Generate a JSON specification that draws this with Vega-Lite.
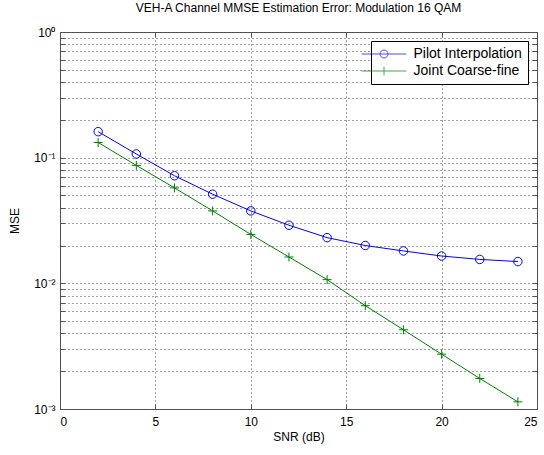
{
  "$schema": "https://vega.github.io/schema/vega-lite/v6.json",
  "width": 477,
  "height": 377,
  "autosize": {"type": "none"},
  "padding": {"left": 60, "top": 32, "right": 7, "bottom": 46},
  "background": "white",
  "title": {
    "text": "VEH-A Channel MMSE Estimation Error: Modulation 16 QAM",
    "font": "Liberation Sans",
    "fontSize": 12,
    "fontWeight": "normal",
    "color": "#000000",
    "anchor": "middle",
    "offset": 11
  },
  "config": {
    "font": "Liberation Sans",
    "view": {"stroke": "#555555", "strokeWidth": 1},
    "axis": {
      "domain": false,
      "tickColor": "#555555",
      "tickWidth": 1,
      "labelFont": "Liberation Sans",
      "labelFontSize": 12,
      "labelColor": "#000000",
      "titleFont": "Liberation Sans",
      "titleFontSize": 12,
      "titleFontWeight": "normal",
      "titleColor": "#000000"
    },
    "legend": {
      "orient": "none",
      "legendX": 311,
      "legendY": 9,
      "strokeColor": "#000000",
      "fillColor": "#ffffff",
      "cornerRadius": 0,
      "padding": 6,
      "labelFont": "Liberation Sans",
      "labelFontSize": 14,
      "labelColor": "#000000",
      "symbolSize": 64,
      "symbolStrokeWidth": 1,
      "labelOffset": 22.5,
      "rowPadding": 3
    }
  },
  "data": {
    "values": [
      {"snr": 2, "mse": 0.161, "series": "Pilot Interpolation"},
      {"snr": 4, "mse": 0.107, "series": "Pilot Interpolation"},
      {"snr": 6, "mse": 0.0718, "series": "Pilot Interpolation"},
      {"snr": 8, "mse": 0.0512, "series": "Pilot Interpolation"},
      {"snr": 10, "mse": 0.0377, "series": "Pilot Interpolation"},
      {"snr": 12, "mse": 0.029, "series": "Pilot Interpolation"},
      {"snr": 14, "mse": 0.0231, "series": "Pilot Interpolation"},
      {"snr": 16, "mse": 0.02, "series": "Pilot Interpolation"},
      {"snr": 18, "mse": 0.0181, "series": "Pilot Interpolation"},
      {"snr": 20, "mse": 0.0165, "series": "Pilot Interpolation"},
      {"snr": 22, "mse": 0.0155, "series": "Pilot Interpolation"},
      {"snr": 24, "mse": 0.0149, "series": "Pilot Interpolation"},
      {"snr": 2, "mse": 0.132, "series": "Joint Coarse-fine"},
      {"snr": 4, "mse": 0.0868, "series": "Joint Coarse-fine"},
      {"snr": 6, "mse": 0.0575, "series": "Joint Coarse-fine"},
      {"snr": 8, "mse": 0.0377, "series": "Joint Coarse-fine"},
      {"snr": 10, "mse": 0.0245, "series": "Joint Coarse-fine"},
      {"snr": 12, "mse": 0.0162, "series": "Joint Coarse-fine"},
      {"snr": 14, "mse": 0.0107, "series": "Joint Coarse-fine"},
      {"snr": 16, "mse": 0.00664, "series": "Joint Coarse-fine"},
      {"snr": 18, "mse": 0.00427, "series": "Joint Coarse-fine"},
      {"snr": 20, "mse": 0.00273, "series": "Joint Coarse-fine"},
      {"snr": 22, "mse": 0.00175, "series": "Joint Coarse-fine"},
      {"snr": 24, "mse": 0.00114, "series": "Joint Coarse-fine"}
    ]
  },
  "layer": [
    {
      "mark": {"type": "line", "strokeWidth": 1},
      "encoding": {
        "x": {
          "field": "snr",
          "type": "quantitative",
          "scale": {"domain": [0, 25], "nice": false, "zero": false},
          "axis": {
            "orient": "bottom",
            "values": [0, 5, 10, 15, 20, 25],
            "grid": true,
            "gridDash": [1, 3],
            "gridColor": "#444444",
            "gridOpacity": 1,
            "tickSize": -5,
            "labelPadding": 12,
            "title": "SNR (dB)",
            "titlePadding": 4
          }
        },
        "y": {
          "field": "mse",
          "type": "quantitative",
          "scale": {"type": "log", "domain": [0.001, 1], "nice": false},
          "axis": {
            "orient": "left",
            "values": [0.001, 0.002, 0.003, 0.004, 0.005, 0.006, 0.007, 0.008, 0.009,
                       0.01, 0.02, 0.03, 0.04, 0.05, 0.06, 0.07, 0.08, 0.09,
                       0.1, 0.2, 0.3, 0.4, 0.5, 0.6, 0.7, 0.8, 0.9, 1],
            "labelExpr": "datum.value == 1 ? '10⁰' : datum.value == 0.1 ? '10⁻¹' : datum.value == 0.01 ? '10⁻²' : datum.value == 0.001 ? '10⁻³' : ''",
            "grid": true,
            "gridDash": [1, 3],
            "gridColor": "#444444",
            "gridOpacity": 1,
            "tickSize": -5,
            "labelPadding": 10,
            "title": "MSE",
            "titlePadding": 12
          }
        },
        "detail": {"field": "series"},
        "color": {
          "condition": {"test": "datum.series == 'Pilot Interpolation'", "value": "#0000ff"},
          "value": "#008000"
        }
      }
    },
    {
      "mark": {"type": "point", "filled": false, "strokeWidth": 1, "opacity": 1},
      "encoding": {
        "x": {
          "field": "snr",
          "type": "quantitative",
          "axis": {
            "orient": "top",
            "values": [0, 5, 10, 15, 20, 25],
            "labels": false,
            "grid": false,
            "tickSize": -5,
            "title": null
          }
        },
        "y": {
          "field": "mse",
          "type": "quantitative",
          "axis": {
            "orient": "right",
            "values": [0.001, 0.002, 0.003, 0.004, 0.005, 0.006, 0.007, 0.008, 0.009,
                       0.01, 0.02, 0.03, 0.04, 0.05, 0.06, 0.07, 0.08, 0.09,
                       0.1, 0.2, 0.3, 0.4, 0.5, 0.6, 0.7, 0.8, 0.9, 1],
            "labels": false,
            "grid": false,
            "tickSize": -5,
            "title": null
          }
        },
        "shape": {
          "condition": {"test": "datum.series == 'Pilot Interpolation'", "value": "circle"},
          "value": "M-1,0L1,0M0,-1L0,1"
        },
        "size": {
          "condition": {"test": "datum.series == 'Pilot Interpolation'", "value": 72},
          "value": 81
        },
        "color": {
          "condition": {"test": "datum.series == 'Pilot Interpolation'", "value": "#0000ff"},
          "value": "#008000"
        }
      }
    },
    {
      "transform": [{"filter": "datum.snr < 0"}],
      "mark": {"type": "point", "filled": false, "strokeWidth": 1},
      "encoding": {
        "x": {"field": "snr", "type": "quantitative", "axis": null},
        "y": {"field": "mse", "type": "quantitative", "axis": null},
        "color": {
          "field": "series",
          "type": "nominal",
          "scale": {
            "domain": ["Pilot Interpolation", "Joint Coarse-fine"],
            "range": ["#0000ff", "#008000"]
          },
          "legend": {"title": null}
        },
        "shape": {
          "field": "series",
          "type": "nominal",
          "scale": {
            "domain": ["Pilot Interpolation", "Joint Coarse-fine"],
            "range": [
              "M-5.6,0L5.6,0M-1,0A1,1,0,1,0,1,0A1,1,0,1,0,-1,0",
              "M-5.6,0L5.6,0M0,-1.1L0,1.1"
            ]
          },
          "legend": {"title": null}
        }
      }
    }
  ],
  "resolve": {"axis": {"x": "independent", "y": "independent"}}
}
